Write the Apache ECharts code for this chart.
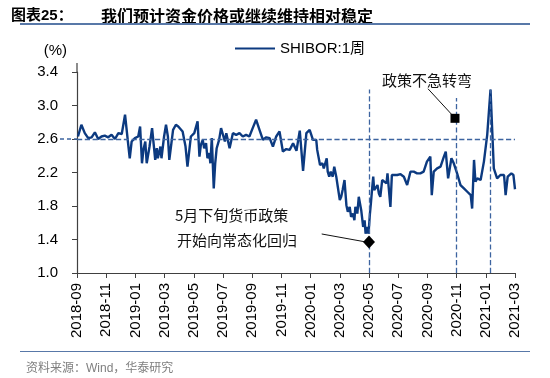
<!DOCTYPE html>
<html>
<head>
<meta charset="utf-8">
<script src="https://cdn.jsdelivr.net/npm/echarts@6/dist/echarts.min.js"></script>
<style>
html, body { margin: 0; padding: 0; background: #fff; }
#wrap { position: relative; width: 550px; height: 378px; }
#chart { width: 550px; height: 378px; }
.rule { position: absolute; left: 20px; width: 510px; background: #5878a8; }
</style>
</head>
<body>
<div id="wrap">
<div id="chart"></div>
<div class="rule" style="top:23px;height:2px"></div>
<div class="rule" style="top:351px;height:1px"></div>
</div>
<script>
// x tick labels, one every 2 months starting 2018-09
var monthLabels = ['2018-09','2018-11','2019-01','2019-03','2019-05','2019-07','2019-09','2019-11',
    '2020-01','2020-03','2020-05','2020-07','2020-09','2020-11','2021-01','2021-03'];

var dates = [
    // 2018
    '2018-09-03','2018-09-10','2018-09-17','2018-09-24','2018-10-01','2018-10-08','2018-10-15','2018-10-22',
    '2018-10-29','2018-11-05','2018-11-12','2018-11-19','2018-11-26','2018-12-03','2018-12-10','2018-12-17',
    '2018-12-20','2018-12-24','2018-12-31',
    // 2019
    '2019-01-07','2019-01-11','2019-01-15','2019-01-18','2019-01-22','2019-01-25','2019-01-31','2019-02-05',
    '2019-02-08','2019-02-11','2019-02-14','2019-02-16','2019-02-21','2019-02-23','2019-02-28','2019-03-04',
    '2019-03-08','2019-03-11','2019-03-15','2019-03-19','2019-03-25','2019-03-30','2019-04-03','2019-04-08',
    '2019-04-14','2019-04-18','2019-04-25','2019-05-02','2019-05-09','2019-05-13','2019-05-16','2019-05-20',
    '2019-05-23','2019-05-27','2019-05-30','2019-06-03','2019-06-05','2019-06-08','2019-06-12','2019-06-15',
    '2019-06-18','2019-06-23','2019-06-27','2019-07-01','2019-07-05','2019-07-08','2019-07-15','2019-07-22',
    '2019-07-29','2019-08-05','2019-08-12','2019-08-19','2019-08-26','2019-09-02','2019-09-09','2019-09-16',
    '2019-09-23','2019-09-30','2019-10-07','2019-10-14','2019-10-21','2019-10-28','2019-11-04','2019-11-11',
    '2019-11-18','2019-11-25','2019-12-02','2019-12-09','2019-12-16','2019-12-23','2019-12-30',
    // 2020
    '2020-01-06','2020-01-13','2020-01-15','2020-01-21','2020-01-26','2020-01-29','2020-02-04','2020-02-06',
    '2020-02-09','2020-02-12','2020-02-16','2020-02-19','2020-02-23','2020-02-26','2020-03-01','2020-03-04',
    '2020-03-07','2020-03-11','2020-03-15','2020-03-18','2020-03-22','2020-03-25','2020-03-29','2020-04-01',
    '2020-04-03','2020-04-07','2020-04-10','2020-04-15','2020-04-19','2020-04-22','2020-04-24','2020-04-27',
    '2020-04-30','2020-05-03','2020-05-05','2020-05-08','2020-05-10','2020-05-12','2020-05-16','2020-05-19',
    '2020-05-22','2020-05-25','2020-05-29','2020-06-01','2020-06-07','2020-06-09','2020-06-15','2020-06-18',
    '2020-06-22','2020-06-29','2020-07-06','2020-07-13','2020-07-20','2020-07-27','2020-08-03','2020-08-10',
    '2020-08-17','2020-08-24','2020-08-31','2020-09-07','2020-09-10','2020-09-14','2020-09-21','2020-09-28',
    '2020-10-05','2020-10-09','2020-10-14','2020-10-21','2020-10-26','2020-11-02','2020-11-09','2020-11-16',
    '2020-11-23','2020-11-30','2020-12-03','2020-12-07','2020-12-10','2020-12-14','2020-12-21','2020-12-28',
    // 2021
    '2021-01-04','2021-01-11','2021-01-18','2021-01-25','2021-02-01','2021-02-08','2021-02-11','2021-02-15',
    '2021-02-22','2021-02-26','2021-03-01'
];

var shibor1w = [
    // 2018
    2.63,2.77,2.67,2.61,2.62,2.68,2.60,2.63,
    2.64,2.62,2.65,2.60,2.67,2.66,2.89,2.52,
    2.37,2.57,2.61,
    // 2019
    2.63,2.75,2.31,2.47,2.57,2.31,2.51,2.73,
    2.73,2.35,2.49,2.37,2.51,2.37,2.63,2.77,
    2.63,2.35,2.35,2.71,2.77,2.75,2.77,2.69,
    2.51,2.27,2.63,2.67,2.81,2.39,2.53,2.59,
    2.49,2.55,2.37,2.43,2.31,2.61,2.01,2.31,
    2.49,2.59,2.73,2.75,2.57,2.67,2.49,2.67,
    2.65,2.67,2.63,2.65,2.63,2.73,2.83,2.71,
    2.59,2.62,2.61,2.51,2.63,2.69,2.45,2.48,
    2.47,2.55,2.46,2.70,2.22,2.67,2.71,
    // 2020
    2.59,2.59,2.47,2.29,2.31,2.25,2.37,2.21,
    2.15,2.21,2.15,2.27,2.15,2.03,1.87,1.91,
    1.99,2.11,1.81,1.73,1.79,1.67,1.71,1.63,
    1.79,1.71,1.91,1.75,1.55,1.63,1.47,1.55,
    1.47,1.71,1.83,2.03,2.15,1.99,1.99,2.05,
    1.95,1.91,2.11,2.13,2.07,2.19,1.79,2.17,
    2.17,2.17,2.18,2.15,2.05,2.21,2.21,2.19,
    2.19,2.21,2.33,2.39,1.93,2.21,2.25,2.27,
    2.39,2.45,2.13,2.37,2.31,2.19,2.05,2.01,
    1.97,1.93,1.77,2.35,2.09,2.13,2.11,2.33,
    // 2021
    2.65,3.19,2.25,2.13,2.17,2.17,1.93,2.15,
    2.19,2.17,2.00
];

var seriesName = 'SHIBOR:1周';
var refLevel = 2.6;
var eventDates = ['2020-05-01', '2020-11-01', '2021-01-11'];

// month offset from 2018-09-01, fractional inside the month
function monthIdx(s) {
    var p = s.split('-');
    var y = +p[0], m = +p[1], d = +p[2];
    var dim = new Date(y, m, 0).getDate();
    return (y - 2018) * 12 + (m - 9) + (d - 1) / dim;
}

var lineData = [];
for (var i = 0; i < dates.length; i++) {
    lineData.push([monthIdx(dates[i]), shibor1w[i]]);
}

var dashStyle = { type: 'dashed', color: '#3d64a0', width: 1.3 };
var solidStyle = { type: 'solid', color: '#111', width: 1 };

var chart = echarts.init(document.getElementById('chart'));
var option = {
    animation: false,
    title: [{
        text: '图表25：',
        left: 6, top: 3,
        textStyle: { fontSize: 15, fontWeight: 'bold', color: '#000', fontFamily: 'Liberation Sans, Noto Sans CJK SC' }
    }, {
        text: '我们预计资金价格或继续维持相对稳定',
        left: 96, top: 3,
        textStyle: { fontSize: 16, fontWeight: 'bold', color: '#000', fontFamily: 'Noto Sans CJK SC' }
    }, {
        text: '资料来源：Wind，华泰研究',
        left: 21, top: 358,
        textStyle: { fontSize: 12, fontWeight: 'normal', color: '#7f7f7f', fontFamily: 'Liberation Sans, Noto Sans CJK SC' }
    }],
    legend: {
        left: 230, top: 36,
        icon: 'rect', itemWidth: 40, itemHeight: 2,
        textStyle: { fontSize: 15, color: '#000', fontFamily: 'Liberation Sans, Noto Sans CJK SC' },
        data: [seriesName]
    },
    grid: { left: 77, right: 35, top: 72, bottom: 105 },
    xAxis: {
        type: 'value',
        min: 0, max: 30, interval: 2,
        axisLine: { lineStyle: { color: '#404040', width: 1.2 } },
        axisTick: { length: 5, lineStyle: { color: '#404040' } },
        splitLine: { show: false },
        axisLabel: {
            rotate: 90, margin: 10, fontSize: 15, color: '#000',
            fontFamily: 'Liberation Sans',
            formatter: function (v) { return monthLabels[Math.round(v / 2)] || ''; }
        }
    },
    yAxis: {
        type: 'value',
        min: 1.0, max: 3.4, interval: 0.4,
        name: '(%)',
        nameLocation: 'end',
        nameGap: 14,
        nameTextStyle: { fontSize: 15, color: '#000', align: 'right', padding: [0, 10, 0, 0], fontFamily: 'Liberation Sans' },
        axisLine: { show: true, lineStyle: { color: '#404040', width: 1.2 } },
        axisTick: { show: true, length: 5, lineStyle: { color: '#404040' } },
        splitLine: { show: false },
        axisLabel: {
            margin: 19, fontSize: 15, color: '#000', fontFamily: 'Liberation Sans',
            formatter: function (v) { return v.toFixed(1); }
        }
    },
    series: [{
        name: seriesName,
        type: 'line',
        showSymbol: false,
        clip: false,
        color: '#0c3a80',
        lineStyle: { width: 2.4, color: '#0c3a80' },
        data: lineData,
        markLine: {
            silent: true,
            symbol: 'none',
            label: { show: false },
            data: [
                [{ coord: [0, refLevel], lineStyle: dashStyle }, { coord: [30, refLevel] }],
                [{ coord: [monthIdx(eventDates[0]), 1.0], lineStyle: dashStyle }, { coord: [monthIdx(eventDates[0]), 3.19] }],
                [{ coord: [monthIdx(eventDates[1]), 1.0], lineStyle: dashStyle }, { coord: [monthIdx(eventDates[1]), 3.09] }],
                [{ coord: [monthIdx(eventDates[2]), 1.0], lineStyle: dashStyle }, { coord: [monthIdx(eventDates[2]), 3.19] }],
                [{ coord: [24.04, 3.2], lineStyle: solidStyle }, { coord: [25.68, 2.89] }],
                [{ coord: [16.76, 1.466], lineStyle: solidStyle }, { coord: [19.8, 1.37] }]
            ]
        },
        markPoint: {
            silent: true,
            label: { show: false },
            itemStyle: { color: '#000' },
            data: [
                { coord: [25.89, 2.847], symbol: 'rect', symbolSize: 9 },
                { coord: [monthIdx(eventDates[0]), 1.37], symbol: 'diamond', symbolSize: [12, 13] }
            ]
        }
    }]
};
chart.setOption(option);

// notes, the 2.6 stub left of the y axis and the axis run past 3.4
var p0 = chart.convertToPixel({ gridIndex: 0 }, [0, refLevel]);
var pTop = chart.convertToPixel({ gridIndex: 0 }, [0, 3.4]);
chart.setOption({
    graphic: {
        elements: [
            { type: 'text', z: 100, x: 382, y: 73, style: { text: '政策不急转弯', fontSize: 15, fill: '#111', fontFamily: 'Noto Sans CJK SC' } },
            { type: 'text', z: 100, x: 175, y: 208, style: { text: '5月下旬货币政策', fontSize: 15, fill: '#111', fontFamily: 'Noto Sans CJK SC' } },
            { type: 'text', z: 100, x: 177, y: 233, style: { text: '开始向常态化回归', fontSize: 15, fill: '#111', fontFamily: 'Noto Sans CJK SC' } },
            { type: 'line', z: 100, shape: { x1: p0[0] - 17, y1: p0[1], x2: p0[0], y2: p0[1] },
              style: { stroke: '#3d64a0', lineWidth: 1.3, lineDash: [4, 3] } },
            { type: 'line', z: 100, shape: { x1: pTop[0], y1: pTop[1] - 9, x2: pTop[0], y2: pTop[1] },
              style: { stroke: '#404040', lineWidth: 1.2 } }
        ]
    }
});
</script>
</body>
</html>
